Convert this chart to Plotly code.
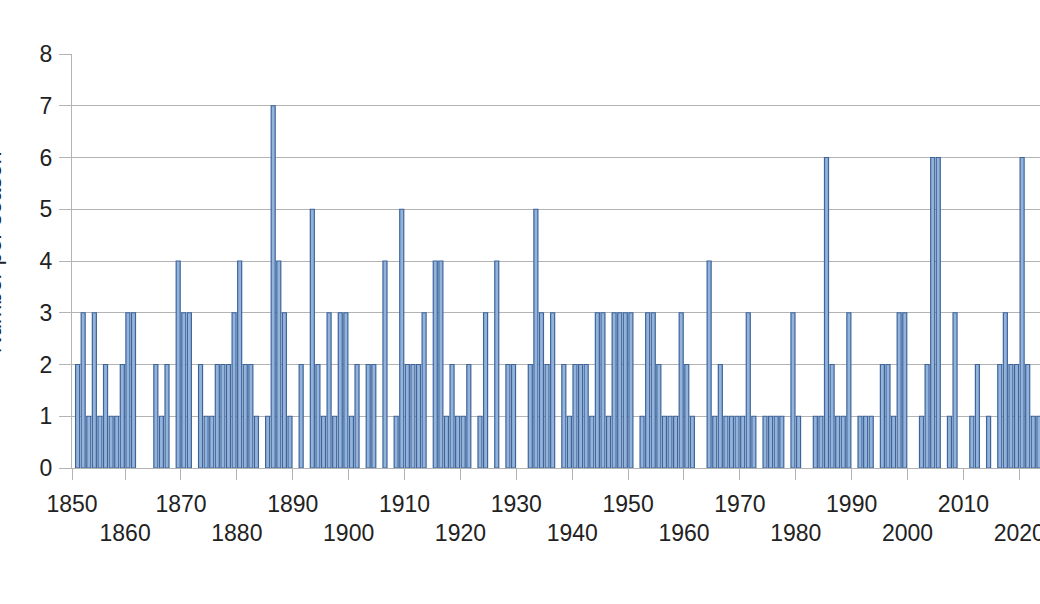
import plotly.graph_objects as go

# yearly counts, 1851..2023
years = list(range(1851, 2024))
counts = [
    2, 3, 1, 3, 1, 2, 1, 1, 2,          # 1851-1859
    3, 3, 0, 0, 0, 2, 1, 2, 0, 4,       # 1860s
    3, 3, 0, 2, 1, 1, 2, 2, 2, 3,       # 1870s
    4, 2, 2, 1, 0, 1, 7, 4, 3, 1,       # 1880s
    0, 2, 0, 5, 2, 1, 3, 1, 3, 3,       # 1890s
    1, 2, 0, 2, 2, 0, 4, 0, 1, 5,       # 1900s
    2, 2, 2, 3, 0, 4, 4, 1, 2, 1,       # 1910s
    1, 2, 0, 1, 3, 0, 4, 0, 2, 2,       # 1920s
    0, 0, 2, 5, 3, 2, 3, 0, 2, 1,       # 1930s
    2, 2, 2, 1, 3, 3, 1, 3, 3, 3,       # 1940s
    3, 0, 1, 3, 3, 2, 1, 1, 1, 3,       # 1950s
    2, 1, 0, 0, 4, 1, 2, 1, 1, 1,       # 1960s
    1, 3, 1, 0, 1, 1, 1, 1, 0, 3,       # 1970s
    1, 0, 0, 1, 1, 6, 2, 1, 1, 3,       # 1980s
    0, 1, 1, 1, 0, 2, 2, 1, 3, 3,       # 1990s
    0, 0, 1, 2, 6, 6, 0, 1, 3, 0,       # 2000s
    0, 1, 2, 0, 1, 0, 2, 3, 2, 2,       # 2010s
    6, 2, 1, 1,                         # 2020-2023
]
decades = list(range(1850, 2030, 10))
top_row = decades[0::2]      # 1850, 1870, ...
bottom_row = decades[1::2]   # 1860, 1880, ...

font = "Liberation Sans, Arial, sans-serif"
grey = "#b3b3b3"
ink = "#222222"
x_range = [1850.0, 2023.2]   # chart is cut off on the right


def tick_pos(d):
    # ticks sit between categories; the 1850 one is on the axis itself
    return 1850.0 if d == decades[0] else d - 0.5


fig = go.Figure()
fig.add_trace(go.Bar(
    x=years,
    y=[c if c else None for c in counts],   # no flat outline for empty years
    width=0.72,
    marker=dict(color="#94b3da", line=dict(color="#3d659c", width=1.2)),
    showlegend=False,
))
# empty trace so the second (staggered labels) axis gets drawn
fig.add_trace(go.Scatter(x=[], y=[], xaxis="x2", showlegend=False))

fig.update_layout(
    width=1040, height=604,
    margin=dict(l=72, r=0, t=54, b=136),
    paper_bgcolor="white", plot_bgcolor="white",
    font=dict(family=font, size=23, color=ink),
    xaxis=dict(
        range=x_range, automargin=False,
        tickmode="array",
        tickvals=[tick_pos(d) for d in decades],
        ticktext=[str(d) if d in top_row else "" for d in decades],
        ticks="outside", ticklen=11, tickcolor=grey, tickwidth=1,
        showline=True, linecolor=grey, linewidth=1,
        showgrid=False, zeroline=False,
        ticklabelstandoff=4, ticklabeloverflow="allow",
    ),
    xaxis2=dict(
        overlaying="x", anchor="y", side="bottom",
        range=x_range, automargin=False,
        tickmode="array",
        tickvals=[tick_pos(d) for d in bottom_row],
        ticktext=[str(d) for d in bottom_row],
        ticks="outside", ticklen=11, tickcolor="rgba(0,0,0,0)",
        showline=False, showgrid=False, zeroline=False,
        ticklabelstandoff=33, ticklabeloverflow="allow",
    ),
    yaxis=dict(
        range=[0, 8], dtick=1, automargin=False,
        showgrid=True, gridcolor=grey, gridwidth=1,
        showline=True, linecolor=grey, linewidth=1,
        ticks="outside", ticklen=12, tickcolor=grey,
        zeroline=False, ticklabelstandoff=2,
    ),
    # axis title: only its edge is visible in the cropped original
    annotations=[dict(
        text="Number per season", textangle=-90,
        xref="paper", yref="paper", x=-0.0665, y=0.52,
        xanchor="right", yanchor="middle", showarrow=False,
        font=dict(family=font, size=23, color=ink),
    )],
)

# drop the default body margin so the figure sits at the window's top-left
fig.write_html(
    "out.html",
    config={"displayModeBar": False},
    post_script="document.body.style.margin='0';",
)
